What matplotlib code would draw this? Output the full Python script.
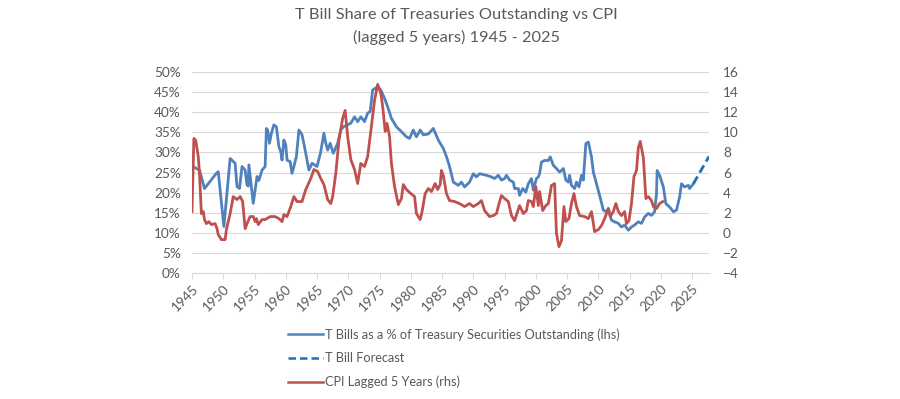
import matplotlib
matplotlib.use("Agg")
import matplotlib.pyplot as plt
from matplotlib.ticker import FuncFormatter

plt.rcParams['font.family'] = ['Lato', 'DejaVu Sans']

# T Bills as % of Treasury securities outstanding (lhs)
tbill_years = [1945.0, 1946.2, 1947.0, 1948.9, 1949.2, 1950.1, 1951.1, 1951.9, 1952.2, 1952.6,
               1953.0, 1953.5, 1953.8, 1954.0, 1954.1, 1954.8, 1955.4, 1955.7, 1956.2, 1956.7,
               1956.9, 1957.1, 1957.4, 1957.7, 1958.1, 1958.5, 1958.9, 1959.2, 1959.4, 1959.7,
               1960.0, 1960.2, 1960.7, 1961.0, 1961.3, 1961.7, 1962.1, 1962.6, 1963.0, 1963.4,
               1963.7, 1964.2, 1965.0, 1965.6, 1966.1, 1966.4, 1966.7, 1967.1, 1967.6, 1968.3,
               1968.8, 1969.2, 1969.9, 1970.4, 1971.0, 1971.5, 1972.0, 1972.6, 1973.1, 1973.5,
               1973.9, 1974.7, 1975.2, 1975.8, 1976.3, 1976.9, 1977.7, 1978.5, 1979.3, 1979.8,
               1980.4, 1980.9, 1981.5, 1982.0, 1982.8, 1983.6, 1984.4, 1985.2, 1985.7, 1986.2,
               1986.8, 1987.6, 1988.1, 1988.6, 1989.4, 1990.0, 1990.5, 1991.0, 1992.1, 1992.9,
               1993.4, 1994.0, 1994.5, 1995.0, 1995.3, 1995.8, 1996.4, 1996.6, 1997.2, 1997.4,
               1997.9, 1998.4, 1998.8, 1999.3, 1999.6, 2000.1, 2000.4, 2000.6, 2000.9, 2001.4,
               2002.0, 2002.3, 2002.8, 2003.3, 2003.8, 2004.4, 2004.8, 2005.2, 2005.4, 2005.7,
               2006.2, 2006.5, 2006.9, 2007.3, 2007.6, 2008.0, 2008.4, 2008.9, 2009.2, 2009.7,
               2010.2, 2010.8, 2011.3, 2011.6, 2012.1, 2012.6, 2013.2, 2013.7, 2014.2, 2014.8,
               2015.3, 2015.8, 2016.4, 2016.9, 2017.4, 2018.0, 2018.5, 2019.0, 2019.3, 2019.4,
               2019.8, 2020.4, 2020.8, 2021.4, 2022.0, 2022.5, 2023.0, 2023.3, 2023.8, 2024.4,
               2024.6, 2025.2]
tbill_pct = [26.6, 25.6, 21.0, 24.8, 25.2, 11.5, 28.5, 27.3, 21.5, 21.0,
             26.5, 25.6, 21.9, 21.6, 26.9, 17.3, 24.0, 23.0, 25.6, 26.5,
             36.0, 35.6, 32.3, 34.8, 36.9, 36.4, 31.4, 30.2, 28.1, 33.1,
             31.9, 28.1, 27.7, 24.8, 26.5, 29.0, 35.6, 34.4, 31.4, 28.1,
             25.6, 27.3, 26.5, 30.2, 34.8, 32.3, 30.6, 32.3, 29.8, 32.3,
             35.6, 36.4, 36.9, 37.3, 38.9, 37.7, 38.9, 37.7, 39.8, 40.2,
             45.6, 46.4, 45.6, 43.5, 41.4, 38.5, 36.4, 35.2, 33.9, 33.5,
             35.6, 33.9, 35.6, 34.4, 34.6, 36.0, 33.1, 31.0, 29.0, 26.5,
             22.6, 21.8, 22.6, 21.4, 22.6, 24.7, 23.9, 24.7, 24.3, 23.9,
             23.5, 24.3, 23.1, 23.5, 24.3, 23.1, 22.6, 21.0, 21.0, 19.3,
             21.0, 20.1, 22.2, 23.5, 20.6, 23.5, 23.9, 24.7, 27.6, 28.0,
             28.0, 28.9, 26.8, 26.0, 25.1, 26.0, 23.1, 22.6, 24.3, 21.8,
             21.0, 22.6, 21.4, 24.3, 23.1, 32.2, 32.6, 28.9, 25.1, 22.2,
             19.3, 15.6, 15.2, 16.0, 13.1, 12.7, 12.3, 11.4, 11.9, 10.6,
             11.4, 11.9, 12.7, 12.3, 13.9, 14.8, 14.3, 15.2, 19.7, 25.5,
             24.3, 21.4, 17.2, 16.4, 15.2, 15.6, 18.9, 22.2, 21.4, 21.8,
             21.0, 22.2]

# T Bill forecast (lhs)
forecast_years = [2025.2, 2027.7]
forecast_pct = [22.2, 29.0]

# CPI lagged 5 years (rhs)
cpi_years = [1945.0, 1945.3, 1945.6, 1946.0, 1946.2, 1946.5, 1946.8, 1947.0, 1947.3, 1947.7,
             1948.1, 1948.7, 1949.0, 1949.2, 1949.7, 1950.3, 1950.5, 1951.1, 1951.6, 1952.2,
             1952.7, 1953.1, 1953.5, 1953.8, 1954.3, 1954.8, 1955.1, 1955.3, 1955.6, 1956.2,
             1956.7, 1957.5, 1958.3, 1958.9, 1959.4, 1959.7, 1960.2, 1960.8, 1961.3, 1961.8,
             1962.6, 1963.2, 1964.0, 1964.5, 1965.1, 1965.6, 1966.1, 1966.7, 1967.2, 1967.5,
             1968.0, 1968.5, 1969.1, 1969.5, 1969.9, 1970.4, 1971.0, 1971.5, 1972.0, 1972.6,
             1973.1, 1973.7, 1974.2, 1974.7, 1975.2, 1975.5, 1975.9, 1976.2, 1976.6, 1976.9,
             1977.4, 1978.0, 1978.5, 1978.8, 1979.3, 1980.0, 1980.6, 1980.9, 1981.5, 1981.8,
             1982.3, 1982.8, 1983.3, 1983.9, 1984.3, 1984.7, 1984.9, 1985.2, 1985.7, 1986.2,
             1987.0, 1987.8, 1988.6, 1989.4, 1990.0, 1990.8, 1991.3, 1991.8, 1992.6, 1993.2,
             1993.7, 1994.2, 1994.5, 1995.0, 1995.6, 1996.1, 1996.6, 1997.4, 1998.0, 1998.5,
             1998.8, 1999.3, 1999.6, 2000.0, 2000.4, 2000.6, 2001.1, 2001.6, 2002.0, 2002.5,
             2003.0, 2003.3, 2003.7, 2004.1, 2004.5, 2004.8, 2005.3, 2005.7, 2006.1, 2006.5,
             2007.0, 2007.8, 2008.4, 2008.9, 2009.4, 2010.0, 2010.5, 2011.0, 2011.6, 2011.9,
             2012.4, 2012.8, 2013.2, 2013.7, 2014.2, 2014.5, 2014.9, 2015.3, 2015.7, 2016.1,
             2016.4, 2016.7, 2017.2, 2017.6, 2018.0, 2018.5, 2018.8, 2019.3, 2019.8, 2020.3]
cpi_vals = [2.1, 9.4, 9.2, 7.6, 5.9, 1.9, 2.1, 1.3, 0.9, 1.1,
            0.8, 0.9, 0.4, -0.2, -0.7, -0.7, 0.3, 1.9, 3.6, 3.3,
            3.6, 3.1, 0.4, 0.9, 1.6, 1.6, 1.1, 1.4, 0.8, 1.3,
            1.3, 1.6, 1.6, 1.4, 1.1, 1.8, 1.6, 2.6, 3.6, 3.1,
            3.1, 4.3, 5.4, 6.3, 6.1, 5.4, 4.8, 3.3, 2.9, 3.6,
            5.9, 9.2, 11.4, 12.2, 9.6, 7.3, 6.3, 4.9, 6.9, 6.6,
            7.6, 10.6, 13.2, 14.8, 13.9, 12.6, 10.1, 10.9, 9.6, 6.9,
            4.6, 2.8, 3.4, 4.8, 4.3, 3.9, 3.6, 1.9, 1.3, 2.1,
            3.9, 4.4, 4.1, 4.9, 4.3, 4.8, 6.2, 5.7, 3.9, 3.2,
            3.1, 2.9, 2.6, 2.9, 2.6, 2.9, 3.2, 2.2, 1.6, 1.7,
            1.9, 3.1, 3.7, 3.4, 3.1, 1.7, 1.2, 2.7, 1.9, 2.2,
            3.2, 3.1, 2.6, 4.6, 2.7, 4.1, 2.2, 2.7, 2.9, 4.7,
            4.9, -0.1, -1.4, -0.8, 2.6, 1.1, 1.4, 2.9, 3.9, 2.6,
            1.7, 1.6, 1.4, 2.1, 0.1, 0.3, 0.7, 1.4, 2.4, 1.6,
            2.1, 2.9, 2.1, 1.7, 2.1, 0.9, 1.2, 2.9, 5.6, 6.2,
            8.5, 9.1, 7.5, 3.4, 3.6, 3.2, 2.6, 2.4, 2.9, 3.1]

year_ticks = list(range(1945, 2030, 5))
left_ticks = [0, 5, 10, 15, 20, 25, 30, 35, 40, 45, 50]
right_ticks = [-4, -2, 0, 2, 4, 6, 8, 10, 12, 14, 16]

BLUE = '#4F81BD'
RED = '#C0504D'
FBLUE = '#1F6FB7'
TXT = '#595959'
GRID = '#D9D9D9'

fig = plt.figure(figsize=(9, 3.99), dpi=100)
ax = fig.add_axes([192/900, 1 - 272.7/399, (709 - 192)/900, (272.7 - 72.3)/399])
ax2 = ax.twinx()

l1, = ax.plot(tbill_years, tbill_pct, color=BLUE, lw=2.0, solid_joinstyle='round',
              label='T Bills as a % of Treasury Securities Outstanding (lhs)', zorder=3)
l2, = ax.plot(forecast_years, forecast_pct, color=FBLUE, lw=2.0, ls=(0, (3, 1.6)),
              label='T Bill Forecast', zorder=3)
l3, = ax2.plot(cpi_years, cpi_vals, color=RED, lw=2.0, solid_joinstyle='round',
               label='CPI Lagged 5 Years (rhs)', zorder=4)

ax.set_xlim(1945, 2027.7)
ax.set_ylim(0, 50)
ax2.set_ylim(-4, 16)
ax.set_yticks(left_ticks)
ax2.set_yticks(right_ticks)
ax.yaxis.set_major_formatter(FuncFormatter(lambda v, p: f'{int(v)}%'))
ax.set_xticks(year_ticks)
ax.set_xticklabels([str(y) for y in year_ticks], rotation=45, ha='right',
                   rotation_mode='anchor')
ax.grid(axis='y', color=GRID, lw=0.8)
ax.set_axisbelow(True)

for a in (ax, ax2):
    for s in ('top', 'left', 'right'):
        a.spines[s].set_visible(False)
    a.spines['bottom'].set_color(GRID)
ax2.spines['bottom'].set_visible(False)

ax.tick_params(axis='y', length=0, labelsize=9.8, colors=TXT, pad=8)
ax2.tick_params(axis='y', length=0, labelsize=9.8, colors=TXT, pad=10)
ax.tick_params(axis='x', length=4, color=GRID, labelsize=9.8, labelcolor=TXT, pad=3)

fig.text(0.507, 0.962, 'T Bill Share of Treasuries Outstanding vs CPI', ha='center',
         va='center', fontsize=11.8, color=TXT)
fig.text(0.507, 0.906, '(lagged 5 years) 1945 - 2025', ha='center', va='center',
         fontsize=11.8, color=TXT)

leg = fig.legend(handles=[l1, l2, l3], loc='upper left', bbox_to_anchor=(283/900, 1 - 323/399),
                 frameon=False, fontsize=9.2, labelcolor=TXT, handlelength=2.7,
                 handletextpad=0.2, labelspacing=0.9, borderaxespad=0)
for h in leg.legend_handles:
    h.set_linewidth(1.8)

fig.savefig('out.png', dpi=100)
